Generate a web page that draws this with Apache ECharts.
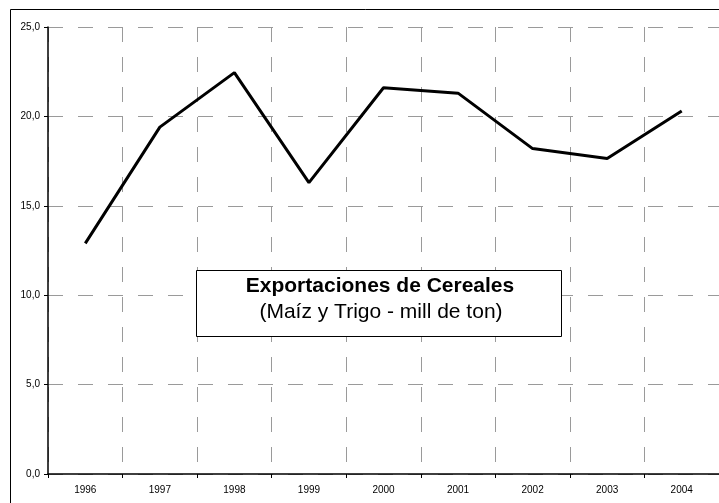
<!DOCTYPE html>
<html>
<head>
<meta charset="utf-8">
<script src="https://cdn.jsdelivr.net/npm/echarts@6/dist/echarts.min.js"></script>
<style>
  html, body { margin: 0; padding: 0; background: #fff; }
  #chart { width: 719px; height: 503px; }
</style>
</head>
<body>
<div id="chart"></div>
<script>
// Years on the category axis
const years = ['1996', '1997', '1998', '1999', '2000', '2001', '2002', '2003', '2004'];
// Cereal exports (maize and wheat), million tonnes
const exportsMt = [12.9, 19.4, 22.45, 16.3, 21.6, 21.3, 18.2, 17.65, 20.3];
// Box caption
const captionTitle = 'Exportaciones de Cereales';
const captionSub = '(Maíz y Trigo - mill de ton)';

const FONT = '"Liberation Sans", Arial, sans-serif';
const dashGrid = { color: '#9a9a9a', width: 1, type: [15, 15] };

const chart = echarts.init(document.getElementById('chart'), null, { renderer: 'canvas' });

chart.setOption({
  animation: false,
  backgroundColor: '#fff',
  grid: { left: 48, right: 0, top: 27, bottom: 29, containLabel: false },
  xAxis: {
    type: 'category',
    data: years,
    boundaryGap: true,
    axisLine: { show: true, lineStyle: { color: '#000', width: 1.5 } },
    axisTick: { show: true, length: 4, lineStyle: { color: '#000', width: 1 } },
    axisLabel: { color: '#000', fontFamily: FONT, fontSize: 10, margin: 11 },
    splitLine: { show: true, lineStyle: dashGrid }
  },
  yAxis: {
    type: 'value',
    min: 0,
    max: 25,
    interval: 5,
    axisLine: { show: true, lineStyle: { color: '#000', width: 1.5 } },
    axisTick: { show: true, length: 4, lineStyle: { color: '#000', width: 1 } },
    axisLabel: {
      color: '#000', fontFamily: FONT, fontSize: 10, margin: 8,
      formatter: v => v.toFixed(1).replace('.', ',')
    },
    splitLine: { show: true, lineStyle: dashGrid }
  },
  series: [{
    type: 'line',
    data: exportsMt,
    showSymbol: false,
    symbol: 'none',
    lineStyle: { color: '#000', width: 3 },
    z: 5
  }],
  graphic: [
    {
      type: 'rect',
      z: 100,
      silent: true,
      shape: { x: 10.5, y: 9.5, width: 760, height: 560 },
      style: { fill: null, stroke: '#000', lineWidth: 1 }
    },
    {
      type: 'rect',
      z: 120,
      silent: true,
      shape: { x: 196.5, y: 270.5, width: 365, height: 66 },
      style: { fill: '#fff', stroke: '#000', lineWidth: 1 }
    },
    {
      type: 'text',
      z: 121,
      silent: true,
      style: {
        x: 380, y: 286, text: captionTitle,
        textAlign: 'center', textVerticalAlign: 'middle',
        font: 'bold 21px ' + FONT, fill: '#000'
      }
    },
    {
      type: 'text',
      z: 121,
      silent: true,
      style: {
        x: 381, y: 312, text: captionSub,
        textAlign: 'center', textVerticalAlign: 'middle',
        font: '21px ' + FONT, fill: '#000'
      }
    }
  ]
});
</script>
</body>
</html>
